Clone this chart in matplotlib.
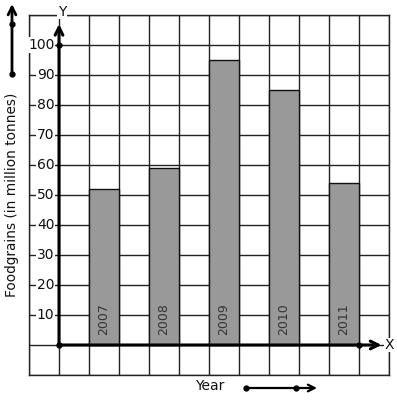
import matplotlib
matplotlib.use("Agg")
import matplotlib.pyplot as plt
from matplotlib.lines import Line2D

years = ["2007", "2008", "2009", "2010", "2011"]
values = [52, 59, 95, 85, 54]
positions = [1.5, 3.5, 5.5, 7.5, 9.5]
yticks = [10, 20, 30, 40, 50, 60, 70, 80, 90, 100]

W, H = 397, 401
fig = plt.figure(figsize=(W / 100, H / 100), dpi=100)
ax = fig.add_axes([29 / W, (H - 375) / H, 360 / W, 360 / H])
ax.set_xlim(-1, 11)
ax.set_ylim(-10, 110)

# grid
for gx in range(-1, 12):
    ax.axvline(gx, color="#222222", lw=1.0, zorder=1)
for gy in range(-10, 111, 10):
    ax.axhline(gy, color="#222222", lw=1.0, zorder=1)

ax.bar(positions, values, width=1.0, color="#999999", edgecolor="#111111",
       linewidth=1.0, zorder=2)

for p, yr in zip(positions, years):
    ax.text(p, 3.3, yr, rotation=90, ha="center", va="bottom", fontsize=9,
            color="#333333", zorder=3)

for t in yticks:
    ax.text(-0.15, t, str(t), ha="right", va="center", fontsize=10, color="#111111",
            zorder=4, bbox=dict(facecolor="white", edgecolor="none", pad=0.6))

# axes with arrows
ax.annotate("", xy=(0, 107), xytext=(0, 0),
            arrowprops=dict(arrowstyle="->", lw=2.2, color="black",
                            mutation_scale=14, shrinkA=0, shrinkB=0), zorder=5)
ax.annotate("", xy=(10.75, 0), xytext=(0, 0),
            arrowprops=dict(arrowstyle="->", lw=2.2, color="black",
                            mutation_scale=14, shrinkA=0, shrinkB=0), zorder=5)
ax.plot([0, 0, 10], [0, 100, 0], "o", color="black", ms=3.5, zorder=6)
ax.text(11.0, 0, "X", ha="center", va="center", fontsize=10, color="#111111",
        zorder=6, bbox=dict(facecolor="white", edgecolor="none", pad=0.3))
ax.text(0.1, 111, "Y", ha="center", va="center", fontsize=10, color="#111111",
        zorder=6, clip_on=False,
        bbox=dict(facecolor="white", edgecolor="none", pad=0.3))

ax.set_xticks([])
ax.set_yticks([])
for s in ax.spines.values():
    s.set_linewidth(1.0)
    s.set_color("#222222")

# y label
fig.text(12 / W, 1 - 195 / H, "Foodgrains (in million tonnes)", rotation=90,
         ha="center", va="center", fontsize=9.8, color="#111111")
fig.text(210 / W, 1 - 386 / H, "Year", ha="center", va="center", fontsize=10,
         color="#111111")

# decorative arrows outside
def fx(x):
    return x / W
def fy(y):
    return 1 - y / H

fig.patches.append(matplotlib.patches.FancyArrowPatch(
    (fx(12), fy(74)), (fx(12), fy(4)), transform=fig.transFigure,
    arrowstyle="->", lw=2.0, color="black", mutation_scale=14, shrinkA=0, shrinkB=0))
fig.add_artist(Line2D([fx(12), fx(12)], [fy(24), fy(74)], transform=fig.transFigure,
                      marker="o", ms=3.5, lw=0, color="black"))
fig.patches.append(matplotlib.patches.FancyArrowPatch(
    (fx(246), fy(388)), (fx(317), fy(388)), transform=fig.transFigure,
    arrowstyle="->", lw=1.6, color="black", mutation_scale=12, shrinkA=0, shrinkB=0))
fig.add_artist(Line2D([fx(246), fx(296)], [fy(388), fy(388)], transform=fig.transFigure,
                      marker="o", ms=3.5, lw=0, color="black"))

fig.savefig("out.png", dpi=100)
